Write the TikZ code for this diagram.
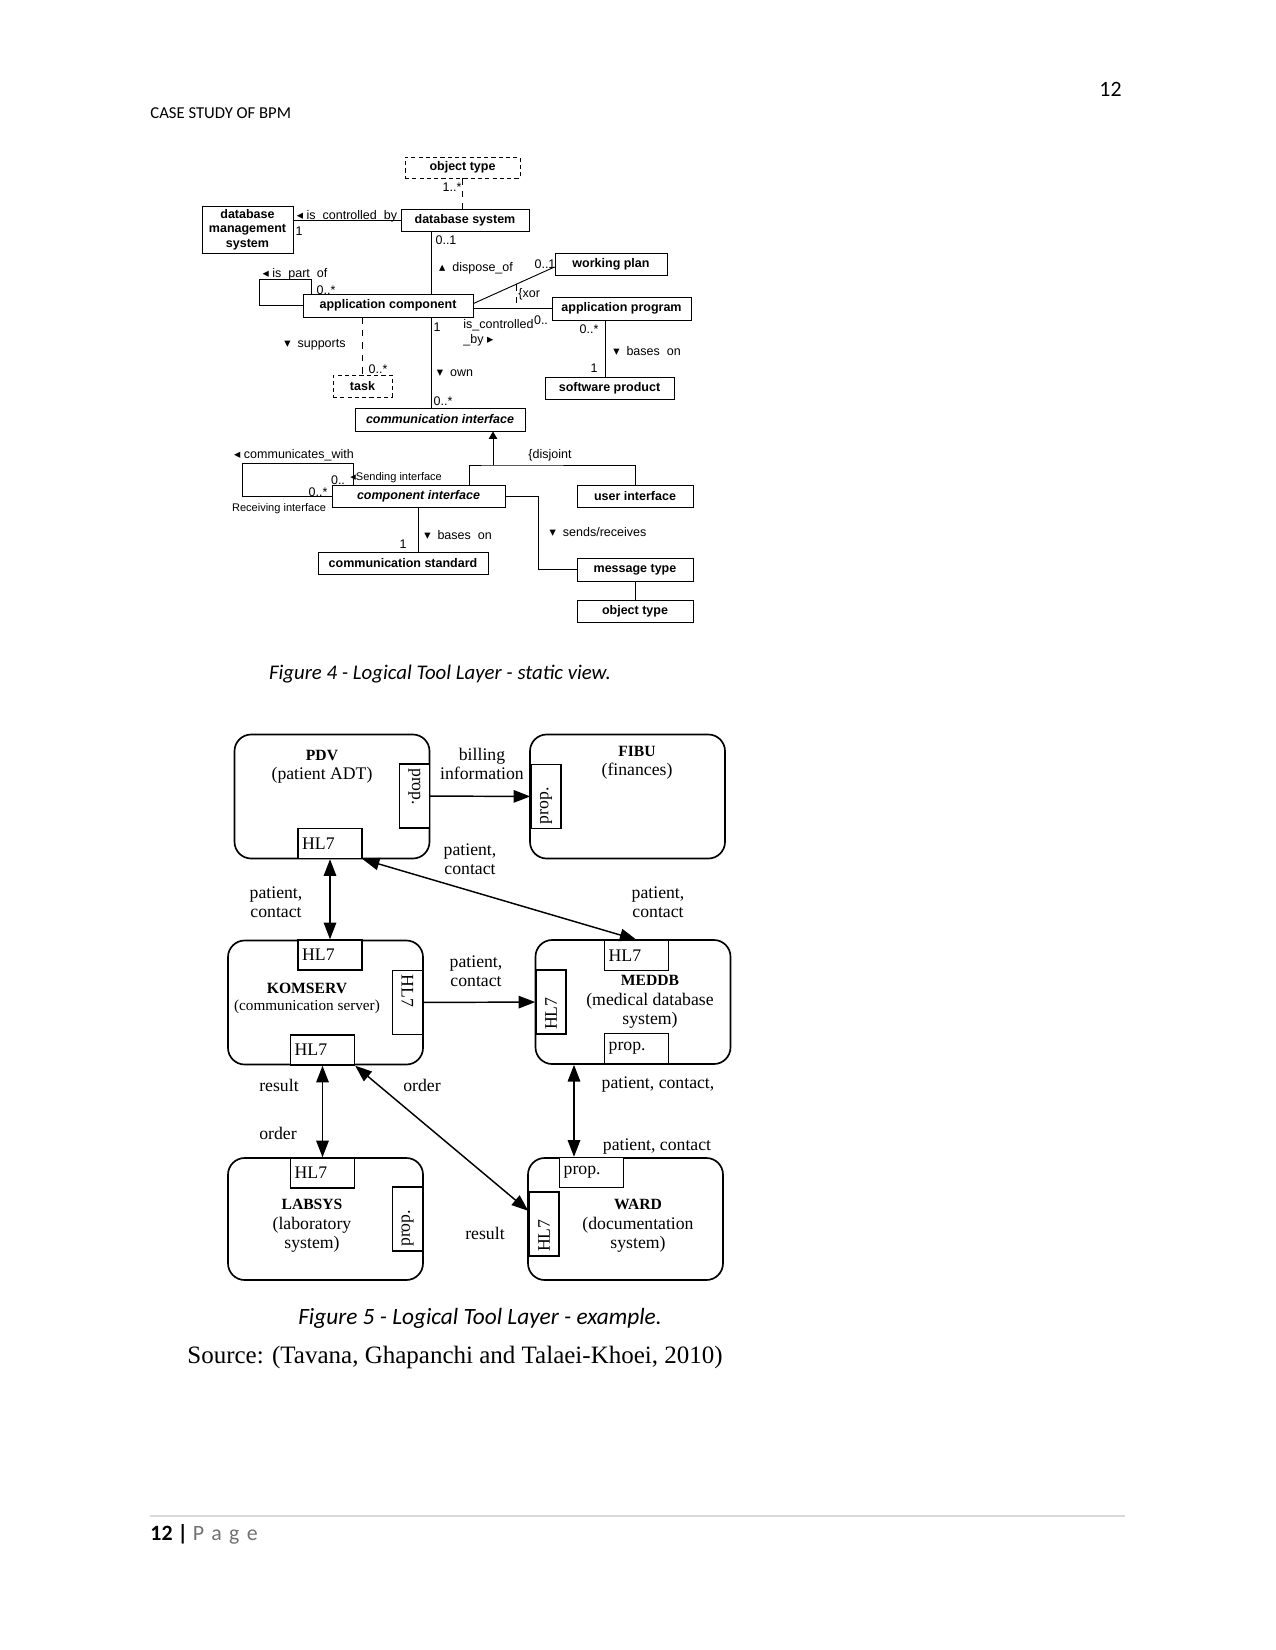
\documentclass[tikz,border=0pt]{standalone}
\usepackage{fontspec}
\setmainfont{Liberation Serif}
\newfontfamily\umlfont{Liberation Sans}
\newfontfamily\trifont{DejaVu Sans}
\newfontfamily\capfont{Carlito}
\usetikzlibrary{arrows.meta,positioning}

\def\pxu{0.48pt}
\newcommand\tril{{\trifont ◂}}
\newcommand\trir{{\trifont ▸}}
\newcommand\triu{{\trifont ▴}}
\newcommand\trid{{\trifont ▾}}
\newcommand\sysname[1]{{\fontsize{7.5}{9}\selectfont\bfseries #1}}

\begin{document}
\begin{tikzpicture}[
  x=0.48pt,y=-0.48pt,
  cls/.style={draw,line width=0.45pt,inner sep=0pt,align=center,font=\fontsize{6}{7}\selectfont\umlfont\bfseries},
  absent/.style={cls,dash pattern=on 2pt off 1.5pt},
  abstract/.style={cls,font=\fontsize{6}{7}\selectfont\umlfont\bfseries\itshape},
  assoc/.style={line width=0.45pt},
  role/.style={inner sep=0pt,align=left,font=\fontsize{6}{7.2}\selectfont\umlfont},
  tiny role/.style={role,font=\fontsize{5.3}{6}\selectfont\umlfont},
  gen/.style={-{Triangle[length=3.5pt,width=4pt]},line width=0.45pt},
  tool/.style={draw,line width=0.8pt,rounded corners=8pt,minimum width=195*\pxu,minimum height=124*\pxu},
  port/.style={draw,line width=0.7pt,fill=white,inner xsep=2pt,inner ysep=0pt,minimum height=30*\pxu,text width=26.7pt,align=left,font=\fontsize{8.5}{9}\selectfont},
  title/.style={align=center,inner sep=0pt,font=\fontsize{8.5}{9.3}\selectfont},
  msg/.style={align=center,inner sep=0pt,font=\fontsize{8.5}{9.3}\selectfont},
  flow/.style={-{Triangle[length=8pt,width=6pt]},line width=0.7pt},
  both/.style={{Triangle[length=8pt,width=6pt]}-{Triangle[length=8pt,width=6pt]},line width=0.7pt},
  capt/.style={inner sep=0pt,font=\capfont\itshape\fontsize{10}{12}\selectfont}
]
\fill[white] (0,0) rectangle (1275,1650);
\useasboundingbox (0,0) rectangle (1275,1650);

% page head
\node[anchor=west,inner sep=0pt,font=\capfont\fontsize{8}{9}\selectfont] (hdr) at (150,113) {CASE STUDY OF BPM};
\node[anchor=east,inner sep=0pt,font=\capfont\fontsize{10.5}{12}\selectfont] (pgno) at (1122,89) {12};

% static view
\node[absent,minimum width=115*\pxu,minimum height=21*\pxu] (objtop) at (462.5,167.5) {object type};
\node[cls,minimum width=128*\pxu,minimum height=22*\pxu] (dbsys) at (465,220) {database system};
\node[cls,minimum width=91*\pxu,minimum height=47*\pxu] (dbms) at (247.5,229.5) {database\\management\\system};
\node[cls,minimum width=112*\pxu,minimum height=22*\pxu] (wplan) at (611,264) {working plan};
\node[cls,minimum width=170*\pxu,minimum height=23*\pxu] (appcomp) at (388,305.5) {application component};
\node[cls,minimum width=139*\pxu,minimum height=23*\pxu] (appprog) at (621.5,308.5) {application program};
\node[absent,minimum width=59*\pxu,minimum height=22*\pxu] (task) at (362.5,386) {task};
\node[cls,minimum width=129*\pxu,minimum height=22*\pxu] (swprod) at (609.5,388) {software product};
\node[abstract,minimum width=170*\pxu,minimum height=23*\pxu] (comif) at (440,419.5) {communication interface};
\node[abstract,minimum width=173*\pxu,minimum height=22*\pxu] (compif) at (418.5,496) {component interface};
\node[cls,minimum width=116*\pxu,minimum height=22*\pxu] (userif) at (635,496) {user interface};
\node[cls,minimum width=170*\pxu,minimum height=22*\pxu] (commstd) at (403,563) {communication standard};
\node[cls,minimum width=116*\pxu,minimum height=23*\pxu] (msgtype) at (635,569.5) {message type};
\node[cls,minimum width=116*\pxu,minimum height=22*\pxu] (objbot) at (635,611) {object type};

\coordinate (vx) at (431,0);
\coordinate (vb) at (605,0);
\coordinate (xa) at (516,284.5);
\coordinate (xb) at (516,308.5);
\coordinate (gj) at (493,465);

\draw[assoc,dashed] (objtop.south) -- (objtop.south |- dbsys.north);
\draw[assoc] (dbms.east |- dbsys.west) -- (dbsys.west);
\draw[assoc] (dbsys.south -| vx) -- (appcomp.north -| vx);
\draw[assoc] (appcomp.south -| vx) -- (comif.north -| vx);
\draw[assoc] ([yshift=2*\pxu]appcomp.east) -- ([yshift=-3*\pxu]wplan.west);
\draw[assoc] (appcomp.east |- appprog.west) -- (appprog.west);
\draw[assoc,dashed] (xa) -- (xb);
\draw[assoc] (appcomp.west) -| ++(-43,-26) -| ([xshift=9*\pxu]appcomp.north west);
\draw[assoc,dashed] (appcomp.south -| task.north) -- (task.north);
\draw[assoc] (appprog.south -| vb) -- (swprod.north -| vb);
\draw[gen] (gj) -- (gj |- comif.south);
\draw[assoc] ([xshift=50.5*\pxu]compif.north) |- (gj) -| (userif.north);
\draw[assoc] (compif.west) -| ++(-89,-33) -| ([xshift=22*\pxu]compif.north west);
\draw[assoc] (compif.south) -- (compif.south |- commstd.north);
\draw[assoc] (compif.east) -- ++(33,0) |- (msgtype.west);
\draw[assoc] (msgtype.south) -- (objbot.north);

\node[role] (m1) at (452,187) {1..*};
\node[role] (ctl) at (347,216) {\tril{} is\ \ controlled\ \ by};
\node[role] (m2) at (299,231) {1};
\node[role] (m3) at (446,240) {0..1};
\node[role] (dsp) at (476,268) {\triu{}\ \ dispose\_of};
\node[role] (m4) at (545,264) {0..1};
\node[role,anchor=west] (xor) at (518,294) {\{xor};
\node[role] (prt) at (295,274) {\tril{} is\ \ part\ \ of};
\node[role] (m5) at (326,290) {0..*};
\node[role,anchor=west] (ctl2) at (463,332.5) {is\_controlled\\\_by \trir};
\node[role] (m6) at (541,320) {0..};
\node[role] (m7) at (437,327) {1};
\node[role] (sup) at (315,345) {\trid\ \ supports};
\node[role] (m8) at (378,369) {0..*};
\node[role] (own) at (455,373) {\trid\ \ own};
\node[role] (m9) at (443,401) {0..*};
\node[role] (m10) at (589,329) {0..*};
\node[role] (m11) at (594,368) {1};
\node[role] (bas1) at (647,351) {\trid\ \ bases\ \ on};
\node[role] (dsj) at (550,455) {\{disjoint};
\node[role] (com) at (294,455) {\tril{} communicates\_with};
\node[role] (m12) at (338,480) {0..};
\node[tiny role,anchor=west] (snd) at (350,478) {\tril{}Sending interface};
\node[role] (m13) at (318,492) {0..*};
\node[tiny role] (rcv) at (279,509) {Receiving interface};
\node[role] (m14) at (403,544) {1};
\node[role] (bas2) at (458,535) {\trid\ \ bases\ \ on};
\node[role] (snr) at (598,532) {\trid\ \ sends/receives};

\node[capt] (cap4) at (440,674) {Figure 4 - Logical Tool Layer - static view.};

% example
\node[tool] (pdv) at (332,796.5) {};
\node[tool] (fibu) at (627.5,796.5) {};
\node[tool] (komserv) at (325.5,1002.5) {};
\node[tool] (meddb) at (633,1002) {};
\node[tool,minimum height=122*\pxu] (labsys) at (325.5,1219) {};
\node[tool,minimum height=122*\pxu] (ward) at (625.5,1219) {};

\node[port] (pdvhl7) at (330,843.5) {HL7};
\node[port,rotate=-90] (pdvprop) at (414.5,796) {prop.};
\node[port,rotate=90] (fibuprop) at (546,796.5) {prop.};
\node[port] (komtop) at (330,955) {HL7};
\node[port,rotate=-90] (komright) at (407.5,1002.5) {HL7};
\node[port] (kombot) at (322.5,1050) {HL7};
\node[port] (medtop) at (636.5,955.5) {HL7};
\node[port,rotate=90] (medleft) at (551,1002) {HL7};
\node[port] (medprop) at (636.5,1048.5) {prop.};
\node[port] (labtop) at (322.5,1173) {HL7};
\node[port,rotate=90] (labprop) at (407.5,1219) {prop.};
\node[port] (wardprop) at (591.5,1172.5) {prop.};
\node[port,rotate=90] (wardhl7) at (544,1224) {HL7};

\node[title] (pdvt) at (322,767) {\sysname{PDV}\\(patient ADT)};
\node[title] (fibut) at (637,763) {\sysname{FIBU}\\(finances)};
\node[title,font=\fontsize{7.3}{8.2}\selectfont] (komt) at (307,998) {\sysname{KOMSERV}\\(communication server)};
\node[title] (medt) at (650,1002) {\sysname{MEDDB}\\(medical database\\system)};
\node[title] (labt) at (312,1226) {\sysname{LABSYS}\\(laboratory\\system)};
\node[title] (wardt) at (638,1226) {\sysname{WARD}\\(documentation\\system)};

\coordinate (vc) at (574,0);
\draw[flow] (pdvprop) -- (fibuprop);
\draw[both] (pdvhl7) -- (komtop);
\draw[both] (pdvhl7.south east) -- (medtop.north);
\draw[flow] (komright) -- (medleft);
\draw[both] (kombot) -- (labtop);
\draw[both] (kombot.south east) -- (wardhl7);
\draw[both] (meddb.south -| vc) -- (wardprop.north -| vc);

\node[msg] (lbill) at (482,764) {billing\\information};
\node[msg] (lpc1) at (276,902) {patient,\\contact};
\node[msg] (lpc2) at (470,859) {patient,\\contact};
\node[msg] (lpc3) at (658,902) {patient,\\contact};
\node[msg] (lpc4) at (476,971) {patient,\\contact};
\node[msg] (lres1) at (279,1085) {result};
\node[msg] (lord1) at (278,1133) {order};
\node[msg] (lord2) at (422,1085) {order};
\node[msg] (lres2) at (485,1233) {result};
\node[msg] (lpc5) at (658,1085) {patient, contact,};
\node[msg] (lpc6) at (657,1147) {patient, contact};

\node[capt,font=\capfont\itshape\fontsize{11.2}{13}\selectfont] (cap5) at (480,1318) {Figure 5 - Logical Tool Layer - example.};
\node[anchor=west,inner sep=0pt,font=\fontsize{12}{14}\selectfont] (src) at (187,1357) {Source: (Tavana, Ghapanchi and Talaei-Khoei, 2010)};

% page foot
\draw[black!15,line width=0.5pt] (150,1516) -- (1125,1516);
\node[anchor=west,inner sep=0pt,font=\capfont\fontsize{10.5}{12}\selectfont] (foot) at (150,1534) {\textbf{12 |} \textcolor{black!55}{P\,\,a\,\,g\,\,e}};
\end{tikzpicture}
\end{document}
